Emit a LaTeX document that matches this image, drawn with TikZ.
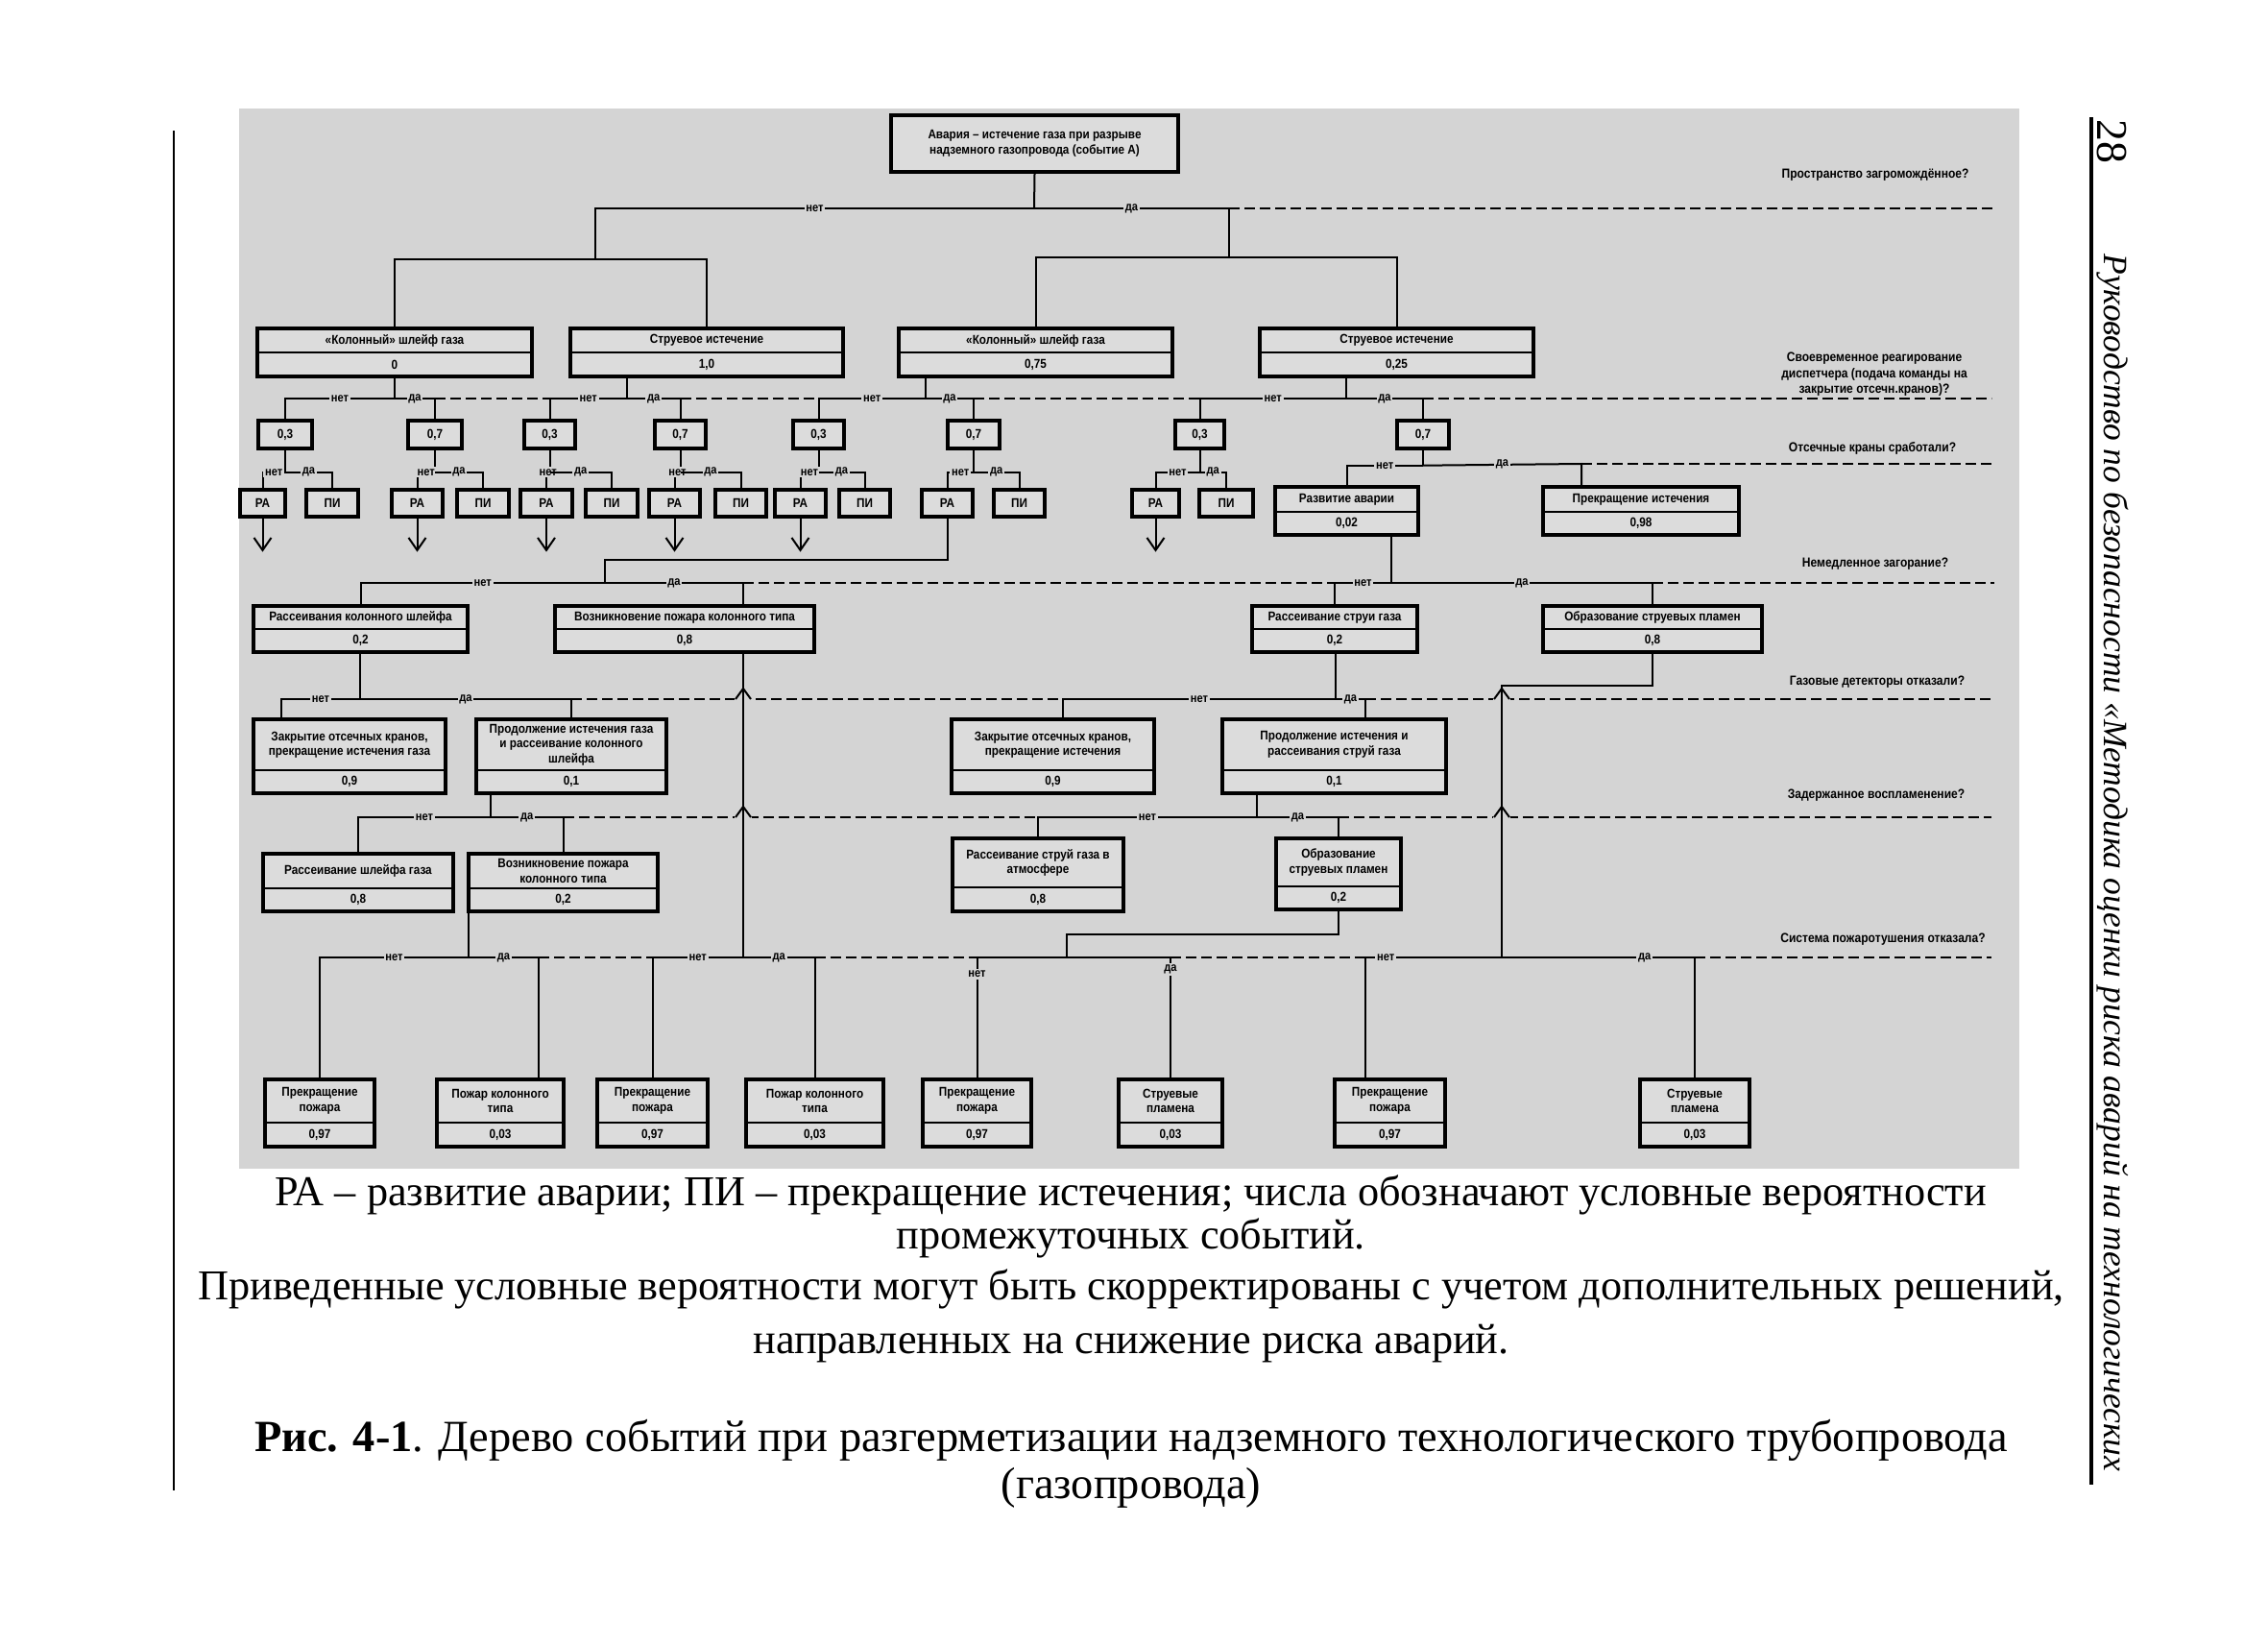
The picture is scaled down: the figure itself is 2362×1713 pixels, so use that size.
\documentclass[tikz,border=0pt]{standalone}
\usepackage{fontspec}
\setmainfont{Liberation Serif}
\newfontfamily\diagfont[FakeStretch=0.88]{Liberation Sans}
\usetikzlibrary{fit,arrows.meta}

\definecolor{scangray}{RGB}{212,212,212}
\definecolor{boxgray}{RGB}{220,220,220}

\tikzset{
  boxframe/.style={draw=black, line width=0.34mm, fill=boxgray, inner sep=0pt},
  boxline/.style={draw=black, line width=0.25mm},
  boxtxt/.style={font=\diagfont\bfseries\fontsize{3.8}{4.4}\selectfont, align=center, inner sep=0pt},
  link/.style={draw=black, line width=0.2mm},
  qline/.style={draw=black, line width=0.2mm, dash pattern=on 1.1mm off 0.5mm},
  yn/.style={font=\diagfont\bfseries\fontsize{3.6}{4}\selectfont, fill=scangray, inner sep=0.5pt},
  qtxt/.style={font=\diagfont\bfseries\fontsize{3.9}{4.7}\selectfont, align=center},
  ratip/.style={-{Straight Barb[length=1.3mm,width=1.8mm]}, line width=0.2mm},
  captxt/.style={font=\fontsize{12.6}{15}\selectfont, anchor=mid, inner sep=0pt},
}

% box with one field: name, x1, y1, x2, y2, text
\newcommand{\smbox}[6]{%
  \node[boxframe, fit={(#2,#3) (#4,#5)}] (#1) {};
  \node[boxtxt] at (#1.center) {#6};
}
% box with event and probability: name, x1, y1, x2, y2, divider, text, value
\newcommand{\evbox}[8]{%
  \node[boxframe, fit={(#2,#3) (#4,#5)}] (#1) {};
  \draw[boxline] (#2,#6) -- (#4,#6);
  \node[boxtxt] at ({(#2+#4)/2},{(#3+#6)/2}) {#7};
  \node[boxtxt] at ({(#2+#4)/2},{(#6+#5)/2}) {#8};
}
% no/yes fork from a junction
\newcommand{\yesno}[3]{%
  \draw[link] (#1) -| node[yn,pos=.25]{нет} (#2);
  \draw[link] (#1) -| node[yn,pos=.25]{да} (#3);
}
% small hump of a dashed line over a solid one
\newcommand{\hop}[2]{%
  \fill[scangray] (#1-9,#2-1.5) rectangle (#1+9,#2+1.5);
  \draw[link] (#1-8,#2) -- (#1,#2-11) -- (#1+8,#2);
}

\begin{document}
\begin{tikzpicture}[x=0.1mm, y=-0.1mm]
\useasboundingbox (0,0) rectangle (2362,1713);

% scanned figure area
\fill[scangray] (249,113) rectangle (2103,1217);

% page rules and running head
\draw[line width=0.25mm] (181,136) -- (181,1552);
\draw[line width=0.45mm] (2178,122) -- (2178,1546);
\node[rotate=-90, anchor=west, font=\fontsize{13}{15}\selectfont] (pagenum) at (2199,112) {28};
\node[rotate=-90, anchor=west, font=\itshape\fontsize{10.1}{12}\selectfont] (runhead) at (2200,252)
  {Руководство по безопасности «Методика оценки риска аварий на технологических};

% top event
\smbox{top}{928}{120}{1227}{179}{Авария – истечение газа при разрыве\\надземного газопровода (событие А)}

% level 2
\evbox{kol1}{268}{342}{554}{392}{367}{«Колонный» шлейф газа}{0}
\evbox{str1}{594}{342}{878}{392}{367}{Струевое истечение}{1,0}
\evbox{kol2}{936}{342}{1221}{392}{367}{«Колонный» шлейф газа}{0,75}
\evbox{str2}{1312}{342}{1597}{392}{367}{Струевое истечение}{0,25}

% level 3
\smbox{p1}{269}{438}{325}{467}{0,3}
\smbox{q1}{425}{438}{481}{467}{0,7}
\smbox{p2}{546}{438}{599}{467}{0,3}
\smbox{q2}{682}{438}{735}{467}{0,7}
\smbox{p3}{826}{438}{879}{467}{0,3}
\smbox{q3}{987}{438}{1041}{467}{0,7}
\smbox{p4}{1224}{438}{1275}{467}{0,3}
\smbox{q4}{1455}{438}{1509}{467}{0,7}

% level 4
\smbox{ra1}{250}{510}{297}{538}{РА}
\smbox{pi1}{319}{510}{373}{538}{ПИ}
\smbox{ra2}{408}{510}{461}{538}{РА}
\smbox{pi2}{476}{510}{530}{538}{ПИ}
\smbox{ra3}{542}{510}{596}{538}{РА}
\smbox{pi3}{610}{510}{664}{538}{ПИ}
\smbox{ra4}{676}{510}{729}{538}{РА}
\smbox{pi4}{745}{510}{798}{538}{ПИ}
\smbox{ra5}{807}{510}{860}{538}{РА}
\smbox{pi5}{874}{510}{927}{538}{ПИ}
\smbox{ra6}{960}{510}{1013}{538}{РА}
\smbox{pi6}{1035}{510}{1088}{538}{ПИ}
\smbox{ra7}{1179}{510}{1228}{538}{РА}
\smbox{pi7}{1249}{510}{1305}{538}{ПИ}
\evbox{rav}{1328}{507}{1477}{557}{533}{Развитие аварии}{0,02}
\evbox{pri}{1607}{507}{1811}{557}{533}{Прекращение истечения}{0,98}

% level 5
\evbox{rks}{264}{631}{487}{679}{655}{Рассеивания колонного шлейфа}{0,2}
\evbox{vpk}{578}{631}{848}{679}{655}{Возникновение пожара колонного типа}{0,8}
\evbox{rsg}{1304}{631}{1476}{679}{655}{Рассеивание струи газа}{0,2}
\evbox{osp}{1607}{631}{1835}{679}{655}{Образование струевых пламен}{0,8}

% level 6
\evbox{zk1}{264}{749}{464}{826}{802}{Закрытие отсечных кранов,\\прекращение истечения газа}{0,9}
\evbox{pig}{496}{749}{694}{826}{802}{Продолжение истечения газа\\и рассеивание колонного\\шлейфа}{0,1}
\evbox{zk2}{991}{749}{1202}{826}{802}{Закрытие отсечных кранов,\\прекращение истечения}{0,9}
\evbox{pis}{1273}{749}{1506}{826}{802}{Продолжение истечения и\\рассеивания струй газа}{0,1}

% level 7
\evbox{rsh}{274}{889}{472}{949}{925}{Рассеивание шлейфа газа}{0,8}
\evbox{vp2}{488}{889}{685}{949}{925}{Возникновение пожара\\колонного типа}{0,2}
\evbox{rsa}{992}{873}{1170}{949}{924}{Рассеивание струй газа в\\атмосфере}{0,8}
\evbox{os2}{1329}{873}{1459}{947}{923}{Образование\\струевых пламен}{0,2}

% outcomes
\evbox{b1}{276}{1124}{390}{1194}{1169}{Прекращение\\пожара}{0,97}
\evbox{b2}{455}{1124}{587}{1194}{1169}{Пожар колонного\\типа}{0,03}
\evbox{b3}{622}{1124}{737}{1194}{1169}{Прекращение\\пожара}{0,97}
\evbox{b4}{777}{1124}{920}{1194}{1169}{Пожар колонного\\типа}{0,03}
\evbox{b5}{961}{1124}{1074}{1194}{1169}{Прекращение\\пожара}{0,97}
\evbox{b6}{1165}{1124}{1273}{1194}{1169}{Струевые\\пламена}{0,03}
\evbox{b7}{1390}{1124}{1505}{1194}{1169}{Прекращение\\пожара}{0,97}
\evbox{b8}{1708}{1124}{1822}{1194}{1169}{Струевые\\пламена}{0,03}

% junctions
\coordinate (j0) at (1077,217);
\coordinate (jL) at (620,270);
\coordinate (jR) at (1280,268);
\coordinate (j1) at (411,415);
\coordinate (j2) at (653,415);
\coordinate (j3) at (964,415);
\coordinate (j4) at (1402,415);
\coordinate (k8r) at (1647,483);
\coordinate (j5) at (630,607);
\coordinate (j6) at (1449,607);
\coordinate (j7) at (375,728);
\coordinate (d7) at (293,728);
\coordinate (j8) at (1391,728);
\coordinate (d8) at (1107,728);
\coordinate (d8r) at (1422,728);
\coordinate (j9) at (511,851);
\coordinate (j10) at (1309,851);
\coordinate (j11) at (488,997);
\coordinate (d11) at (561,997);
\coordinate (jv) at (774,997);
\coordinate (j12) at (1111,997);
\coordinate (j13) at (1564,997);
\coordinate (d13) at (1422,997);

% questions and their dashed lines
\node[qtxt] (qn1) at (1953,182) {Пространство загромождённое?};
\node[qtxt] (qn2) at (1952,390) {Своевременное реагирование\\диспетчера (подача команды на\\закрытие отсечн.кранов)?};
\node[qtxt] (qn3) at (1950,467) {Отсечные краны сработали?};
\node[qtxt] (qn4) at (1953,587) {Немедленное загорание?};
\node[qtxt] (qn5) at (1955,710) {Газовые детекторы отказали?};
\node[qtxt] (qn6) at (1954,828) {Задержанное воспламенение?};
\node[qtxt] (qn7) at (1961,978) {Система пожаротушения отказала?};

\draw[qline] (jR |- j0) -- (2077,217);
\draw[qline] (q1.north |- j1) -- (p2.north |- j2);
\draw[qline] (q2.north |- j2) -- (p3.north |- j3);
\draw[qline] (q3.north |- j3) -- (p4.north |- j4);
\draw[qline] (q4.north |- j4) -- (2074,415);
\draw[qline] (k8r) -- (2077,483);
\draw[qline] (j5 -| jv) -- (j6 -| rsg.north);
\draw[qline] (j6 -| osp.north) -- (2077,607);
\draw[qline] (pig.north |- j7) -- (d8);
\draw[qline] (d8r) -- (2074,728);
\draw[qline] (vp2.north |- j9) -- (rsa.north |- j10);
\draw[qline] (os2.north |- j10) -- (2074,851);
\draw[qline] (d11) -- (b3.north |- jv);
\draw[qline] (b4.north |- jv) -- (b5.north |- j12);
\draw[qline] (b6.north |- j12) -- (d13);
\draw[qline] (b8.north |- j13) -- (2074,997);
\hop{774}{728}
\hop{774}{851}
\hop{1564}{728}
\hop{1564}{851}

% top event -> outflow type
\draw[link] (top.south) -- (j0);
\draw[link] (j0) -| node[yn,pos=.25]{нет} (jL);
\draw[link] (j0) -| node[yn,pos=.25]{да} (jR);
\draw[link] (kol1.north) |- (jL) -| (str1.north);
\draw[link] (kol2.north) |- (jR) -| (str2.north);

% dispatcher response
\draw[link] (kol1.south -| j1) -- (j1);
\draw[link] (str1.south -| j2) -- (j2);
\draw[link] (kol2.south -| j3) -- (j3);
\draw[link] (str2.south -| j4) -- (j4);
\yesno{j1}{p1.north}{q1.north}
\yesno{j2}{p2.north}{q2.north}
\yesno{j3}{p3.north}{q3.north}
\yesno{j4}{p4.north}{q4.north}

% shut-off valves
\draw[link] (p1.south) -- ++(0,23) coordinate (k1);
\draw[link] (q1.south) -- ++(0,23) coordinate (k2);
\draw[link] (p2.south) -- ++(0,23) coordinate (k3);
\draw[link] (q2.south) -- ++(0,23) coordinate (k4);
\draw[link] (p3.south) -- ++(0,23) coordinate (k5);
\draw[link] (q3.south) -- ++(0,23) coordinate (k6);
\draw[link] (p4.south) -- ++(0,23) coordinate (k7);
\draw[link] (q4.south) -- ++(0,16) coordinate (k8);
\yesno{k1}{ra1.north}{pi1.north}
\yesno{k2}{ra2.north}{pi2.north}
\yesno{k3}{ra3.north}{pi3.north}
\yesno{k4}{ra4.north}{pi4.north}
\yesno{k5}{ra5.north}{pi5.north}
\yesno{k6}{ra6.north}{pi6.north}
\yesno{k7}{ra7.north}{pi7.north}
\draw[link] (k8) -| node[yn,pos=.25]{нет} (rav.north);
\draw[link] (k8) -- node[yn]{да} (k8r) -- (k8r |- pri.north);

% accident development continues
\draw[ratip] (ra1.south) -- ++(0,35);
\draw[ratip] (ra2.south) -- ++(0,35);
\draw[ratip] (ra3.south) -- ++(0,35);
\draw[ratip] (ra4.south) -- ++(0,35);
\draw[ratip] (ra5.south) -- ++(0,35);
\draw[ratip] (ra7.south) -- ++(0,35);

% immediate ignition
\draw[link] (ra6.south) |- (630,583) -- (j5);
\draw[link] (j5) -| node[yn,pos=.25]{нет} (rks.north);
\draw[link] (j5) -| node[yn,pos=.25]{да} (vpk.north -| jv);
\draw[link] (rav.south -| j6) -- (j6);
\yesno{j6}{rsg.north}{osp.north}

% gas detectors
\draw[link] (rks.south -| j7) -- (j7);
\draw[link] (j7) -- node[yn]{нет} (d7) -- (d7 |- zk1.north);
\draw[link] (j7) -| node[yn,pos=.25]{да} (pig.north);
\draw[link] (rsg.south -| j8) -- (j8);
\draw[link] (j8) -- node[yn]{нет} (d8) -- (d8 |- zk2.north);
\draw[link] (j8) -- node[yn]{да} (d8r) -- (d8r |- pis.north);

% delayed ignition
\draw[link] (pig.south -| j9) -- (j9);
\yesno{j9}{rsh.north}{vp2.north}
\draw[link] (pis.south -| j10) -- (j10);
\yesno{j10}{rsa.north}{os2.north}

% fire suppression
\draw[link] (vp2.south -| j11) -- (j11);
\draw[link] (j11) -| node[yn,pos=.25]{нет} (b1.north);
\draw[link] (j11) -- node[yn]{да} (d11) -- (d11 |- b2.north);
\draw[link] (vpk.south -| jv) -- (jv);
\yesno{jv}{b3.north}{b4.north}
\draw[link] (os2.south) |- (1111,973) -- (j12);
\draw[link] (j12) -| node[yn,pos=.57]{нет} (b5.north);
\draw[link] (j12) -| node[yn,pos=.55]{да} (b6.north);
\draw[link] (osp.south) |- (1564,714) -- (j13);
\draw[link] (j13) -- node[yn,pos=.85]{нет} (d13) -- (d13 |- b7.north);
\draw[link] (j13) -| node[yn,pos=.37]{да} (b8.north);

% caption
\node[captxt] (cap1) at (1178,1247) {РА – развитие аварии; ПИ – прекращение истечения; числа обозначают условные вероятности};
\node[captxt] (cap2) at (1178,1292) {промежуточных событий.};
\node[captxt] (cap3) at (1178,1345) {Приведенные условные вероятности могут быть скорректированы с учетом дополнительных решений,};
\node[captxt] (cap4) at (1178,1401) {направленных на снижение риска аварий.};
\node[captxt, font=\fontsize{13.2}{15}\selectfont] (cap5) at (1178,1503) {\textbf{Рис. 4-1}. Дерево событий при разгерметизации надземного технологического трубопровода};
\node[captxt, font=\fontsize{13.2}{15}\selectfont] (cap6) at (1178,1552) {(газопровода)};
\end{tikzpicture}
\end{document}
